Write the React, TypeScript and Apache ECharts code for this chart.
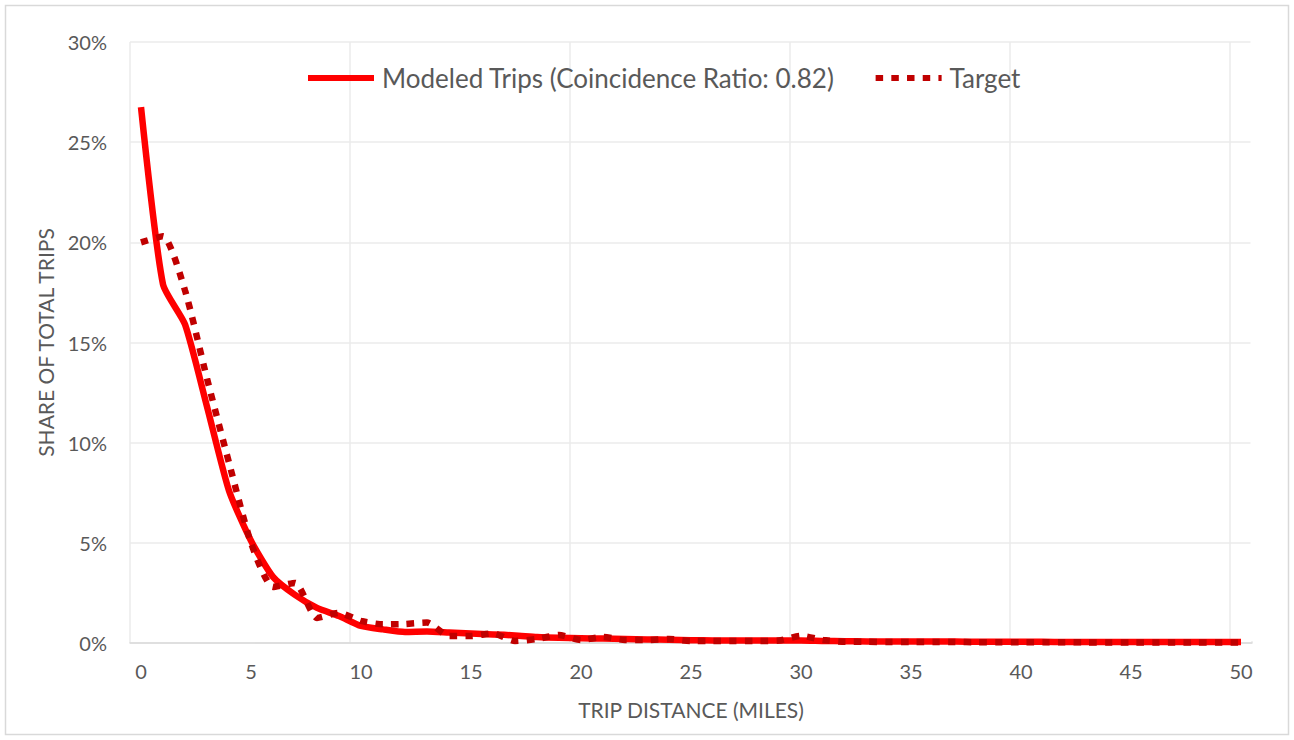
import React, { useEffect, useRef } from "react";
import * as echarts from "echarts";

const categories = [
  "0", "1", "2", "3", "4", "5", "6", "7", "8", "9",
  "10", "11", "12", "13", "14", "15", "16", "17", "18", "19",
  "20", "21", "22", "23", "24", "25", "26", "27", "28", "29",
  "30", "31", "32", "33", "34", "35", "36", "37", "38", "39",
  "40", "41", "42", "43", "44", "45", "46", "47", "48", "49", "50",
];

const modeledTrips = [
  26.75, 17.9, 15.9, 11.8, 7.6, 5.1, 3.3, 2.4, 1.75, 1.35,
  0.85, 0.68, 0.55, 0.57, 0.52, 0.47, 0.43, 0.38, 0.3, 0.26,
  0.24, 0.22, 0.2, 0.18, 0.16, 0.14, 0.13, 0.12, 0.12, 0.12,
  0.12, 0.1, 0.09, 0.08, 0.08, 0.07, 0.07, 0.07, 0.06, 0.06,
  0.06, 0.06, 0.05, 0.05, 0.05, 0.05, 0.05, 0.05, 0.05, 0.05, 0.05,
];

const targetTrips = [
  20.0, 20.3, 17.6, 13.2, 9.0, 5.0, 2.8, 3.0, 1.25, 1.5,
  1.1, 0.93, 0.95, 1.02, 0.35, 0.35, 0.48, 0.1, 0.2, 0.4,
  0.15, 0.3, 0.15, 0.15, 0.2, 0.1, 0.1, 0.1, 0.1, 0.12,
  0.36, 0.15, 0.06, 0.06, 0.05, 0.05, 0.05, 0.05, 0.04, 0.04,
  0.04, 0.04, 0.04, 0.03, 0.03, 0.03, 0.03, 0.03, 0.03, 0.03, 0.03,
];

const seriesNames = ["Modeled Trips (Coincidence Ratio: 0.82)", "Target"];
const xAxisTitle = "TRIP DISTANCE (MILES)";
const yAxisTitle = "SHARE OF TOTAL TRIPS";

const FONT = "Lato";
const TEXT = "#595959";

export default function App() {
  const ref = useRef<HTMLDivElement>(null);
  useEffect(() => {
    if (!ref.current) return;
    const chart = echarts.init(ref.current, null, { renderer: "svg" });
    chart.setOption({
      animation: false,
      backgroundColor: "#ffffff",
      textStyle: { fontFamily: FONT, color: TEXT },
      graphic: [
        {
          type: "rect",
          shape: { x: 5.5, y: 5.5, width: 1283, height: 729 },
          style: { fill: "none", stroke: "#d9d9d9", lineWidth: 1.5 },
          silent: true,
        },
        {
          type: "rect",
          shape: { x: 1250.5, y: 38, width: 5, height: 603 },
          style: { fill: "#ffffff" },
          silent: true,
          z: 50,
        },
      ],
      legend: {
        left: 305,
        top: 65,
        padding: 0,
        itemWidth: 66,
        itemHeight: 24,
        itemGap: 38,
        textStyle: { fontFamily: FONT, fontSize: 26, color: TEXT, padding: [0, 0, 0, 3] },
        lineStyle: { width: 6 },
        itemStyle: { opacity: 0, borderWidth: 0 },
        data: seriesNames,
      },
      grid: { left: 130, right: 42, top: 42, bottom: 97, containLabel: false },
      xAxis: {
        type: "category",
        data: categories,
        boundaryGap: true,
        name: xAxisTitle,
        nameLocation: "middle",
        nameGap: 56,
        nameTextStyle: { fontFamily: FONT, fontSize: 21, color: TEXT },
        axisLine: { show: true, lineStyle: { color: "#d9d9d9", width: 1.5 } },
        axisTick: { show: false },
        axisLabel: { interval: 4, margin: 18, fontFamily: FONT, fontSize: 20, color: TEXT },
        splitLine: {
          show: true,
          interval: (index: number) => index % 10 === 0 && index <= 50,
          lineStyle: { color: "#ebebeb", width: 1.5 },
        },
      },
      yAxis: {
        type: "value",
        min: 0,
        max: 30,
        interval: 5,
        name: yAxisTitle,
        nameLocation: "middle",
        nameRotate: 90,
        nameGap: 74,
        nameTextStyle: { fontFamily: FONT, fontSize: 21, color: TEXT },
        axisLine: { show: false },
        axisTick: { show: false },
        axisLabel: { formatter: "{value}%", margin: 23, fontFamily: FONT, fontSize: 20, color: TEXT },
        splitLine: { show: true, lineStyle: { color: "#ebebeb", width: 1.5 } },
      },
      series: [
        {
          name: seriesNames[0],
          type: "line",
          data: modeledTrips,
          smooth: 0.2,
          symbol: "none",
          color: "#ff0000",
          lineStyle: { color: "#ff0000", width: 6.5, cap: "butt", join: "round" },
          z: 2,
        },
        {
          name: seriesNames[1],
          type: "line",
          data: targetTrips,
          smooth: 0.2,
          symbol: "none",
          color: "#c00000",
          lineStyle: { color: "#c00000", width: 6.5, type: [7.5, 8.2], cap: "butt" },
          z: 3,
        },
      ],
    });
    return () => chart.dispose();
  }, []);
  return (
    <div
      ref={ref}
      style={{ position: "fixed", left: 0, top: 0, width: 1294, height: 740, background: "#fff" }}
    />
  );
}
